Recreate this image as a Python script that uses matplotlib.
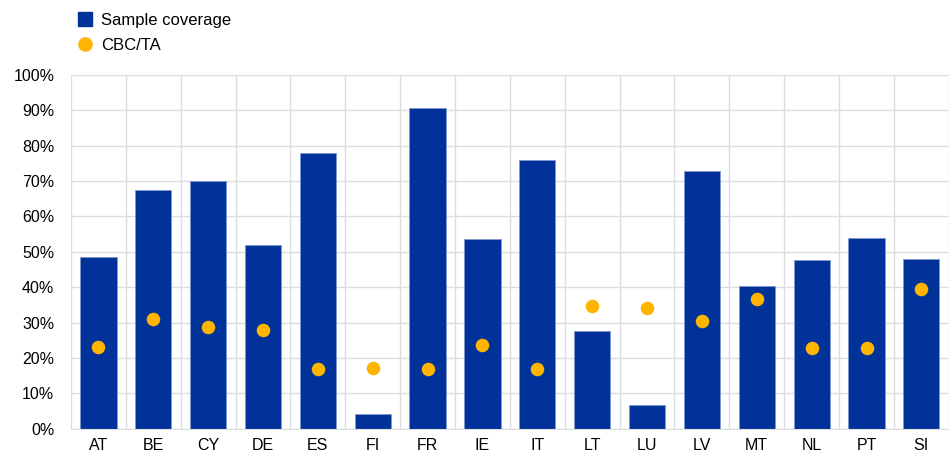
import numpy as np
import matplotlib.pyplot as plt
from matplotlib.lines import Line2D

plt.rcParams['font.family'] = ['Liberation Sans', 'DejaVu Sans']

countries = ['AT', 'BE', 'CY', 'DE', 'ES', 'FI', 'FR', 'IE', 'IT', 'LT', 'LU', 'LV', 'MT', 'NL', 'PT', 'SI']
coverage = [48.5, 67.5, 70.0, 52.0, 78.0, 4.1, 90.8, 53.6, 76.0, 27.5, 6.6, 72.8, 40.2, 47.7, 53.8, 48.0]
cbc_ta = [23.0, 31.0, 28.7, 28.0, 17.0, 17.2, 16.9, 23.6, 16.9, 34.6, 34.1, 30.3, 36.8, 22.9, 22.8, 39.4]

blue = '#003299'
yellow = '#FFB400'
grid_col = '#DDDDDD'

fig = plt.figure(figsize=(9.49, 4.55), dpi=100)
ax = fig.add_axes([0.0748, 0.058, 0.925, 0.777])

x = np.arange(len(countries))
ax.bar(x, coverage, width=0.66, color=blue, edgecolor='#7f98cc', linewidth=0.6, zorder=2)
ax.scatter(x, cbc_ta, s=95, color=yellow, zorder=3, linewidths=0)

ax.set_xlim(-0.5, len(countries) - 0.5)
ax.set_ylim(0, 100)
ax.set_yticks(np.arange(0, 101, 10))
ax.set_yticklabels([f'{v}%' for v in range(0, 101, 10)], fontsize=11.5)
ax.set_xticks(x)
ax.set_xticklabels(countries, fontsize=11.5)
ax.set_xticks(np.arange(-0.5, len(countries), 1), minor=True)
ax.grid(axis='y', color=grid_col, linewidth=1, zorder=0)
ax.grid(axis='x', which='minor', color=grid_col, linewidth=1, zorder=0)
ax.tick_params(axis='both', which='both', length=0)
ax.tick_params(axis='y', pad=12)
ax.tick_params(axis='x', pad=7)
for s in ['top', 'right', 'left']:
    ax.spines[s].set_visible(False)
ax.spines['bottom'].set_color(grid_col)

handles = [Line2D([], [], marker='s', color=blue, linestyle='none', markersize=10),
           Line2D([], [], marker='o', color=yellow, linestyle='none', markersize=9.5)]
fig.legend(handles, ['Sample coverage', 'CBC/TA'], loc='upper left', bbox_to_anchor=(0.063, 1.005),
           frameon=False, fontsize=12, handletextpad=0.4, labelspacing=0.6, handlelength=1.2)

fig.savefig('out.png', dpi=100)
